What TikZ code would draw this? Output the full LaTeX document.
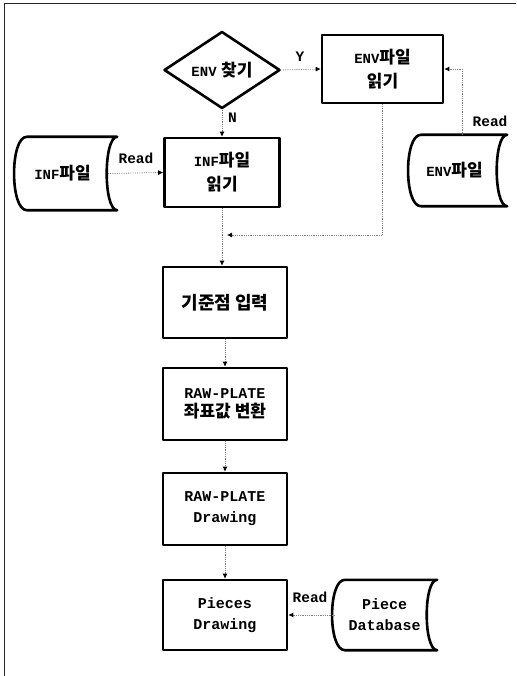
\documentclass[tikz,border=0pt]{standalone}
\usepackage{fontspec}
\newfontfamily\kr{Noto Sans CJK KR}
\newfontfamily\lat{Liberation Mono}
\usetikzlibrary{shapes.geometric,arrows.meta,calc}
\newcommand{\K}[1]{{\kr\bfseries #1}}
\newcommand{\Lt}[1]{{\lat\bfseries #1}}
\newcommand{\stdata}[1]{%
  \draw[boxline] (#1.north east) -- ($(#1.north west)+(13,0)$)
    .. controls ($(#1.north west)+(-4,0)$) and ($(#1.south west)+(-4,0)$) .. ($(#1.south west)+(13,0)$)
    -- (#1.south east)
    .. controls ($(#1.south east)+(-14,0)$) and ($(#1.north east)+(-14,0)$) .. cycle;}
\tikzset{
  boxline/.style={line width=2.6pt, line join=round},
  procbox/.style={draw, boxline, rectangle, inner sep=0pt, align=center},
  datanode/.style={rectangle, inner sep=0pt, align=center},
  conn/.style={draw=gray, densely dotted, line width=0.8pt, -{Latex[color=black,length=5pt,width=5pt]}},
  lbl/.style={font=\lat\bfseries\fontsize{14.5}{16}\selectfont, inner sep=0pt},
  ktext/.style={font=\fontsize{17}{24}\selectfont},
}
\begin{document}
\begin{tikzpicture}[x=1pt,y=-1pt]
\useasboundingbox (0,0) rectangle (516,676);
\draw[line width=1pt, black!85] (4,676) -- (4,4) -- (516,4);

% main column
\node[draw, boxline, diamond, inner sep=0pt, minimum width=116pt, minimum height=72pt] (dia) at (222,70)
  {\fontsize{14}{16}\selectfont\Lt{ENV} \fontsize{17}{20}\selectfont\K{찾기}};
\node[procbox, minimum width=121pt, minimum height=68pt, ktext] (envbox) at (382.5,69)
  {\fontsize{14}{16}\selectfont\Lt{ENV}\fontsize{17}{24}\selectfont\K{파일}\\ \K{읽기}};
\node[procbox, minimum width=115pt, minimum height=69pt, ktext] (infbox) at (222,172.5)
  {\fontsize{14}{16}\selectfont\Lt{INF}\fontsize{17}{24}\selectfont\K{파일}\\ \K{읽기}};
\node[procbox, minimum width=124pt, minimum height=71pt, font=\fontsize{18}{24}\selectfont] (kijun) at (225,302.5)
  {\K{기준점 입력}};
\node[procbox, minimum width=124pt, minimum height=72pt, align=center] (raw1) at (225,404)
  {\fontsize{15}{20}\selectfont\Lt{RAW-PLATE}\\[3pt] \fontsize{17}{22}\selectfont\K{좌표값 변환}};
\node[procbox, minimum width=124pt, minimum height=72pt, font=\lat\bfseries\fontsize{15}{21}\selectfont] (raw2) at (225,509)
  {RAW-PLATE\\Drawing};
\node[procbox, minimum width=124pt, minimum height=70pt, font=\lat\bfseries\fontsize{15}{21}\selectfont] (pieces) at (225,615)
  {Pieces\\Drawing};

% data stores
\node[datanode, minimum width=103pt, minimum height=73pt] (inffile) at (65.5,173.5)
  {\hspace*{-6pt}\fontsize{14}{16}\selectfont\Lt{INF}\fontsize{17}{24}\selectfont\K{파일}};
\stdata{inffile}
\node[datanode, minimum width=99pt, minimum height=71pt] (envfile) at (457.5,170.5)
  {\hspace*{-6pt}\fontsize{14}{16}\selectfont\Lt{ENV}\fontsize{17}{24}\selectfont\K{파일}};
\stdata{envfile}
\node[datanode, minimum width=105pt, minimum height=70pt, font=\lat\bfseries\fontsize{15}{21}\selectfont] (piecedb) at (384.5,615)
  {Piece\\Database};
\stdata{piecedb}

% connectors
\coordinate (join) at (224,235);
\draw[conn] (dia.east) -- (envbox.west);
\node[lbl] (ylab) at (300,57) {Y};
\draw[conn] (dia.south) -- (infbox.north);
\node[lbl, anchor=west] (nlab) at (228,118) {N};
\draw[conn] ($(inffile.east)+(-9,0)$) -- (infbox.west);
\node[lbl] (rlab1) at (136,158) {Read};
\draw[conn] ($(envfile.north)+(4.5,0)$) |- (envbox.east);
\node[lbl] (rlab2) at (490,121) {Read};
\draw[conn, shorten >=3pt] (envbox.south) |- (join);
\draw[conn] (infbox.south) -- (infbox.south |- kijun.north);
\draw[conn] (kijun.south) -- (raw1.north);
\draw[conn] (raw1.south) -- (raw2.north);
\draw[conn] (raw2.south) -- (pieces.north);
\draw[conn] ($(piecedb.west)+(3,0)$) -- (pieces.east);
\node[lbl] (rlab3) at (310,597) {Read};
\end{tikzpicture}
\end{document}
